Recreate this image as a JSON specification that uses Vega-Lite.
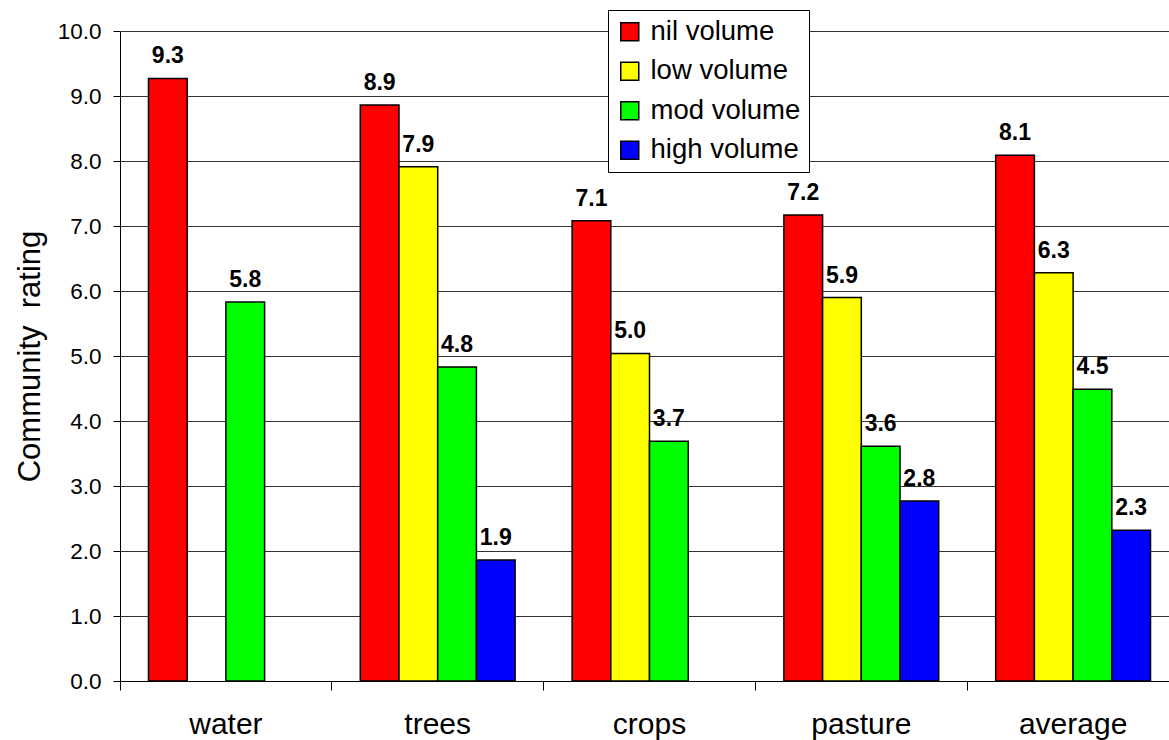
{
  "$schema": "https://vega.github.io/schema/vega-lite/v6.json",
  "autosize": {"type": "none"},
  "padding": {"left": 120, "top": 31, "right": 0, "bottom": 59},
  "width": 1059,
  "height": 650,
  "background": "white",
  "config": {
    "view": {"stroke": null},
    "font": "Liberation Sans",
    "axis": {"labelFont": "Liberation Sans", "titleFont": "Liberation Sans", "labelColor": "black", "titleColor": "black", "domainColor": "black", "tickColor": "black"}
  },
  "data": {
    "values": [
      {"category": "water", "volume": "nil volume", "rating": 9.27},
      {"category": "water", "volume": "mod volume", "rating": 5.83},
      {"category": "trees", "volume": "nil volume", "rating": 8.86},
      {"category": "trees", "volume": "low volume", "rating": 7.91},
      {"category": "trees", "volume": "mod volume", "rating": 4.83},
      {"category": "trees", "volume": "high volume", "rating": 1.86},
      {"category": "crops", "volume": "nil volume", "rating": 7.08},
      {"category": "crops", "volume": "low volume", "rating": 5.04},
      {"category": "crops", "volume": "mod volume", "rating": 3.69},
      {"category": "pasture", "volume": "nil volume", "rating": 7.17},
      {"category": "pasture", "volume": "low volume", "rating": 5.9},
      {"category": "pasture", "volume": "mod volume", "rating": 3.61},
      {"category": "pasture", "volume": "high volume", "rating": 2.77},
      {"category": "average", "volume": "nil volume", "rating": 8.09},
      {"category": "average", "volume": "low volume", "rating": 6.28},
      {"category": "average", "volume": "mod volume", "rating": 4.49},
      {"category": "average", "volume": "high volume", "rating": 2.32}
    ]
  },
  "encoding": {
    "x": {
      "field": "category", "type": "nominal", "sort": null,
      "scale": {"paddingInner": 0, "paddingOuter": 0},
      "axis": {"title": null, "bandPosition": 0, "labelAngle": 0, "labelFontSize": 30, "labelBaseline": "alphabetic", "labelPadding": 43, "tickSize": 9, "domainWidth": 1, "grid": false, "labelAlign": "center"}
    },
    "xOffset": {
      "field": "volume", "type": "nominal",
      "scale": {"domain": ["nil volume", "low volume", "mod volume", "high volume"], "paddingInner": 0, "paddingOuter": 0.736}
    },
    "y": {
      "field": "rating", "type": "quantitative",
      "scale": {"domain": [0, 10], "nice": false},
      "axis": {"title": "Community\u00a0 rating", "titleFontSize": 31, "titleFontWeight": "normal", "titleX": -74, "titleY": 325, "titleAngle": -90, "titleBaseline": "bottom", "values": [0,1,2,3,4,5,6,7,8,9,10], "format": ".1f", "labelFontSize": 22.5, "tickSize": 7, "labelPadding": 12, "grid": true, "gridColor": "#333333", "gridWidth": 1, "domainWidth": 1}
    }
  },
  "layer": [
    {
      "mark": {"type": "bar", "stroke": "black", "strokeWidth": 1.5},
      "encoding": {
        "color": {
          "field": "volume", "type": "nominal",
          "scale": {"domain": ["nil volume", "low volume", "mod volume", "high volume"], "range": ["#FF0000", "#FFFF00", "#00FF00", "#0000FF"]},
          "legend": {"title": null, "orient": "none", "legendX": 488, "legendY": -21, "direction": "vertical", "strokeColor": "black", "fillColor": "white", "padding": 8, "symbolType": "square", "symbolSize": 324, "symbolStrokeColor": "black", "symbolStrokeWidth": 1.5, "symbolOpacity": 1, "labelFontSize": 27.5, "labelFont": "Liberation Sans", "labelColor": "black", "rowPadding": 10.5, "labelOffset": 7, "labelLimit": 300}
        }
      }
    },
    {
      "mark": {"type": "text", "font": "Liberation Sans", "fontWeight": "bold", "fontSize": 23, "align": "center", "baseline": "alphabetic", "dy": -15, "color": "black"},
      "encoding": {
        "text": {"field": "rating", "type": "quantitative", "format": ".1f"}
      }
    }
  ]
}
